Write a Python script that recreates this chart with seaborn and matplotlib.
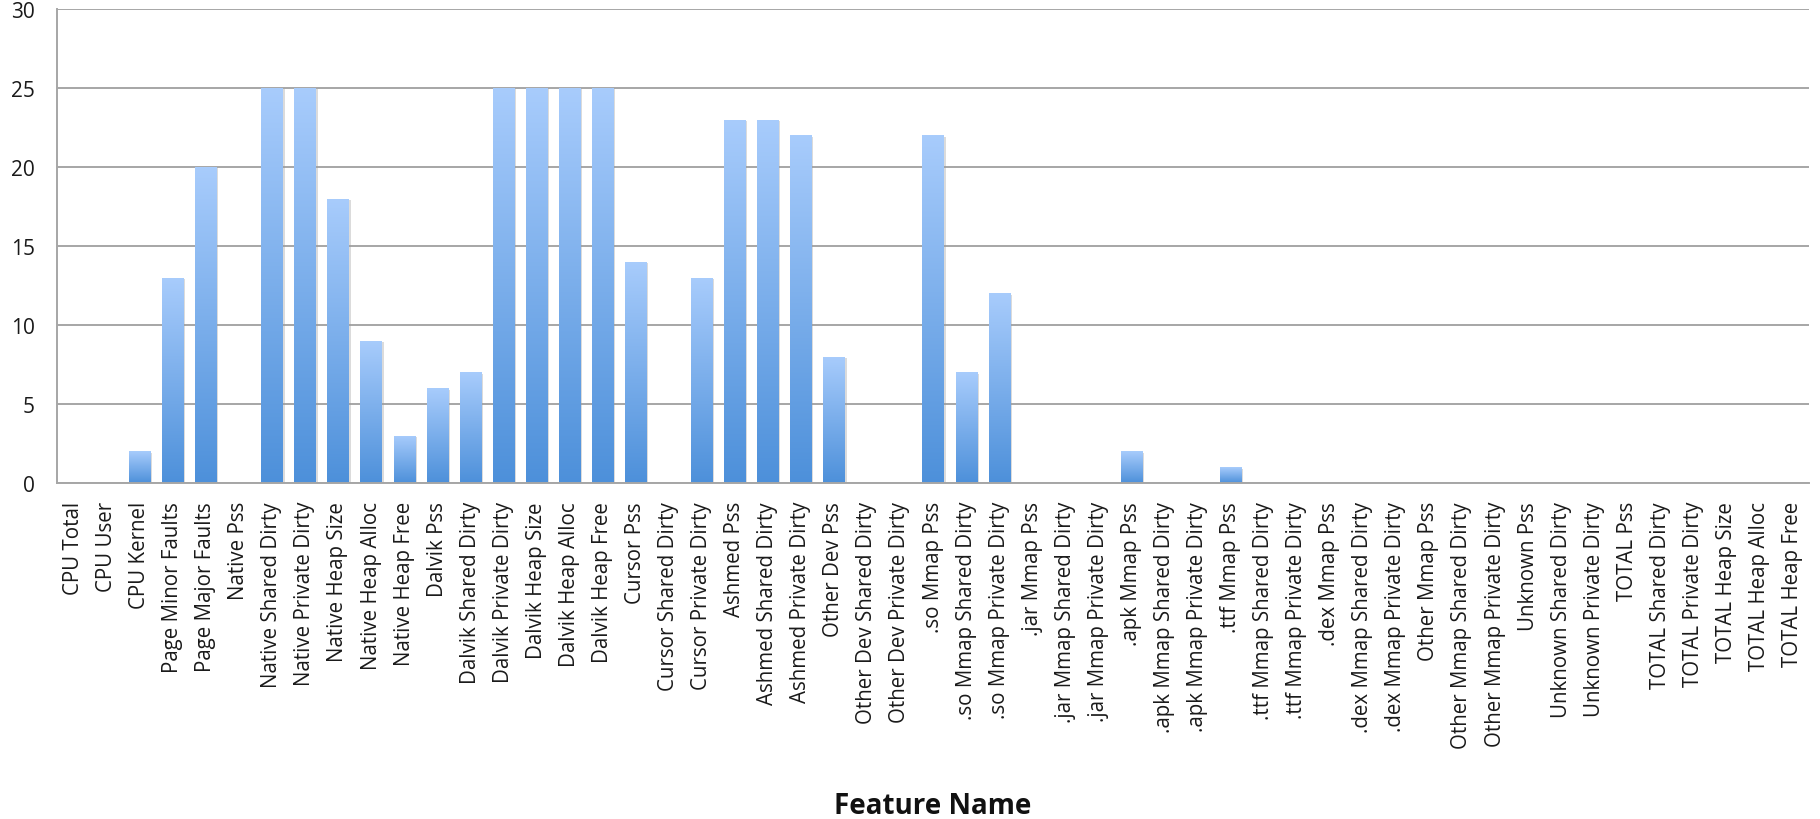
import numpy as np
import pandas as pd
import matplotlib
matplotlib.use("Agg")
import matplotlib.pyplot as plt
from matplotlib.colors import LinearSegmentedColormap
from matplotlib.patheffects import SimplePatchShadow, Normal
import seaborn as sns

features = [
    "CPU Total", "CPU User", "CPU Kernel", "Page Minor Faults", "Page Major Faults",
    "Native Pss", "Native Shared Dirty", "Native Private Dirty", "Native Heap Size",
    "Native Heap Alloc", "Native Heap Free",
    "Dalvik Pss", "Dalvik Shared Dirty", "Dalvik Private Dirty", "Dalvik Heap Size",
    "Dalvik Heap Alloc", "Dalvik Heap Free",
    "Cursor Pss", "Cursor Shared Dirty", "Cursor Private Dirty",
    "Ashmed Pss", "Ashmed Shared Dirty", "Ashmed Private Dirty",
    "Other Dev Pss", "Other Dev Shared Dirty", "Other Dev Private Dirty",
    ".so Mmap Pss", ".so Mmap Shared Dirty", ".so Mmap Private Dirty",
    ".jar Mmap Pss", ".jar Mmap Shared Dirty", ".jar Mmap Private Dirty",
    ".apk Mmap Pss", ".apk Mmap Shared Dirty", ".apk Mmap Private Dirty",
    ".ttf Mmap Pss", ".ttf Mmap Shared Dirty", ".ttf Mmap Private Dirty",
    ".dex Mmap Pss", ".dex Mmap Shared Dirty", ".dex Mmap Private Dirty",
    "Other Mmap Pss", "Other Mmap Shared Dirty", "Other Mmap Private Dirty",
    "Unknown Pss", "Unknown Shared Dirty", "Unknown Private Dirty",
    "TOTAL Pss", "TOTAL Shared Dirty", "TOTAL Private Dirty",
    "TOTAL Heap Size", "TOTAL Heap Alloc", "TOTAL Heap Free",
]

counts = [
    0, 0, 2, 13, 20,
    0, 25, 25, 18, 9, 3,
    6, 7, 25, 25, 25, 25,
    14, 0, 13,
    23, 23, 22,
    8, 0, 0,
    22, 7, 12,
    0, 0, 0,
    2, 0, 0,
    1, 0, 0,
    0, 0, 0,
    0, 0, 0,
    0, 0, 0,
    0, 0, 0,
    0, 0, 0,
]

y_ticks = [0, 5, 10, 15, 20, 25, 30]

df = pd.DataFrame({"feature": features, "count": counts})

sns.set_theme(style="white")
plt.rcParams["font.family"] = ["Open Sans", "DejaVu Sans"]

fig = plt.figure(figsize=(18.2, 8.2), dpi=100)
ax = fig.add_axes([0.0313, 0.4098, 0.9627, 0.578])

sns.barplot(data=df, x="feature", y="count", color="#7aaeea",
            width=0.64, ax=ax, saturation=1)

# vertical light-to-dark blue fill for each bar, with a faint drop shadow
grad = LinearSegmentedColormap.from_list("barfill", ["#4d90da", "#a8ccfc"])
ramp = np.linspace(0, 1, 256).reshape(-1, 1)
for patch in ax.patches:
    h = patch.get_height()
    if h <= 0:
        patch.set_visible(False)
        continue
    x0 = patch.get_x()
    w = patch.get_width()
    patch.set_edgecolor("none")
    patch.set_path_effects([
        SimplePatchShadow(offset=(1.5, -1), shadow_rgbFace="#9a9a9a", alpha=0.35),
        Normal(),
    ])
    im = ax.imshow(ramp, cmap=grad, origin="lower", aspect="auto",
                   extent=(x0, x0 + w, 0, h), zorder=2.5, interpolation="bilinear")
    im.set_clip_path(patch)

ax.set_xlim(-0.5, len(features) - 0.5)
ax.set_ylim(0, 30)
ax.set_yticks(y_ticks)
ax.set_yticklabels([str(t) for t in y_ticks], fontsize=15, color="#1a1a1a")
ax.yaxis.grid(True, color="#a6a6a6", linewidth=1.4)
ax.set_axisbelow(True)

ax.tick_params(axis="x", labelrotation=90, labelsize=14.8, pad=13,
               colors="#1a1a1a", length=0)
ax.tick_params(axis="y", pad=16, length=0)

for side in ["top", "right"]:
    ax.spines[side].set_visible(False)
for side in ["left", "bottom"]:
    ax.spines[side].set_color("#a6a6a6")
    ax.spines[side].set_linewidth(1.4)

ax.set_xlabel("")
ax.set_ylabel("")
fig.text(0.5126, 0.0075, "Feature Name", ha="center", va="baseline",
         fontsize=20, fontweight="bold", color="#111111")

fig.savefig("out.png", dpi=100)
